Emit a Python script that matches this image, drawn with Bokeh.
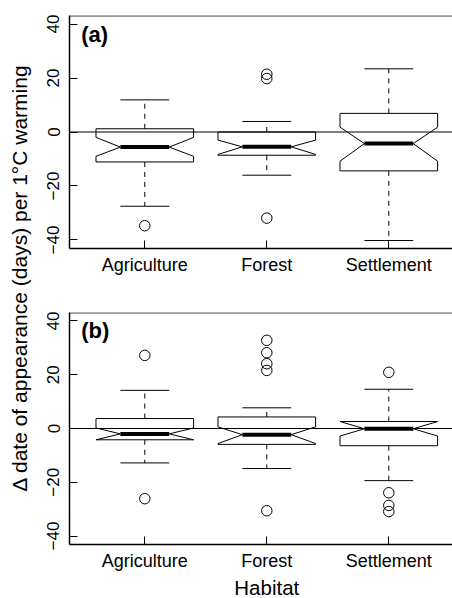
import math
from bokeh.plotting import figure
from bokeh.layouts import row, column
from bokeh.models import FixedTicker, Span, Label, Range1d
from bokeh.embed import file_html
from bokeh.resources import INLINE

# ---------------- data ----------------
habitats = ["Agriculture", "Forest", "Settlement"]
positions = [1, 2, 3]
y_ticks = [-40, -20, 0, 20, 40]

# panel (a)
a_lower_whisker = [-27.5, -16.0, -40.2]
a_q1 = [-11.1, -8.6, -14.4]
a_notch_lo = [-9.0, -8.3, -10.8]
a_median = [-5.6, -5.5, -4.3]
a_notch_hi = [-2.0, -3.0, 1.8]
a_q3 = [1.2, 0.0, 6.9]
a_upper_whisker = [11.9, 3.9, 23.4]
a_outlier_group = ["Agriculture", "Forest", "Forest", "Forest"]
a_outlier_value = [-34.7, 21.4, 19.8, -31.9]

# panel (b)
b_lower_whisker = [-12.8, -14.9, -19.4]
b_q1 = [-4.2, -5.9, -6.4]
b_notch_lo = [-4.2, -5.6, -2.8]
b_median = [-2.0, -2.3, -0.1]
b_notch_hi = [0.2, 0.6, 2.6]
b_q3 = [3.7, 4.3, 2.6]
b_upper_whisker = [14.2, 7.7, 14.6]
b_outlier_group = ["Agriculture", "Agriculture", "Forest", "Forest", "Forest",
                   "Forest", "Forest", "Settlement", "Settlement", "Settlement",
                   "Settlement"]
b_outlier_value = [27.2, -26.1, 32.8, 28.2, 24.1, 21.6, -30.6, 20.9, -23.9,
                   -28.6, -30.9]

y_title = "\u0394 date of appearance (days) per 1\u00b0C warming"
x_title = "Habitat"

# ---------------- style ----------------
FONT = "Liberation Sans"
HALF = 0.4          # half box width
PANEL_W = 414
LEFT_W = 38
TOTAL_H = 598
X_RANGE = (0.383, 3.522)


def make_panel(tag, lw, q1, nlo, med, nhi, q3, uw, og, ov, height, top, bottom, tag_y):
    p = figure(width=PANEL_W, height=height, title=None,
               x_range=Range1d(*X_RANGE), y_range=Range1d(-43.15, 43.15),
               output_backend="svg", toolbar_location=None,
               min_border_left=31, min_border_right=0, min_border_top=top,
               min_border_bottom=bottom)
    p.outline_line_color = None
    p.grid.visible = False
    p.background_fill_color = "white"
    p.border_fill_color = "white"

    # notched boxes
    xs, ys = [], []
    for i, x in enumerate(positions):
        xs.append([x - HALF, x + HALF, x + HALF, x + HALF / 2, x + HALF, x + HALF,
                   x - HALF, x - HALF, x - HALF / 2, x - HALF])
        ys.append([q3[i], q3[i], nhi[i], med[i], nlo[i], q1[i],
                   q1[i], nlo[i], med[i], nhi[i]])
    p.patches(xs, ys, fill_color="white", line_color="black", line_width=1)

    # whiskers (dashed) and staples
    p.segment(x0=positions, y0=q3, x1=positions, y1=uw, line_color="black",
              line_width=1, line_dash="5 5")
    p.segment(x0=positions, y0=q1, x1=positions, y1=lw, line_color="black",
              line_width=1, line_dash="5 5")
    p.segment(x0=[x - HALF / 2 for x in positions], y0=uw,
              x1=[x + HALF / 2 for x in positions], y1=uw,
              line_color="black", line_width=1)
    p.segment(x0=[x - HALF / 2 for x in positions], y0=lw,
              x1=[x + HALF / 2 for x in positions], y1=lw,
              line_color="black", line_width=1)

    # medians
    p.segment(x0=[x - HALF / 2 for x in positions], y0=med,
              x1=[x + HALF / 2 for x in positions], y1=med,
              line_color="black", line_width=4)

    # outliers
    ox = [positions[habitats.index(g)] for g in og]
    p.scatter(ox, ov, marker="circle", size=10.5, fill_color=None,
              line_color="black", line_width=1)

    # reference line at 0 and top frame line
    p.add_layout(Span(location=0, dimension="width", line_color="black",
                      line_width=1))
    p.add_layout(Span(location=43.0, dimension="width", line_color="black",
                      line_width=1))

    # axes
    p.xaxis.ticker = FixedTicker(ticks=positions)
    p.xaxis.major_label_overrides = {pos: h for pos, h in zip(positions, habitats)}
    p.yaxis.ticker = FixedTicker(ticks=y_ticks)
    p.yaxis.major_label_overrides = {t: (str(t).replace("-", "\u2212")) for t in y_ticks}
    p.yaxis.major_label_orientation = "vertical"
    for ax in (p.xaxis[0], p.yaxis[0]):
        ax.axis_line_color = "black"
        ax.axis_line_width = 1.5
        ax.major_tick_in = 8
        ax.major_tick_out = 0
        ax.major_tick_line_color = "black"
        ax.major_tick_line_width = 1
        ax.minor_tick_line_color = None
        ax.major_label_text_font = FONT
        ax.major_label_text_color = "black"
    p.xaxis.major_label_text_font_size = "18px"
    p.xaxis.major_label_standoff = 6
    p.yaxis.major_label_text_font_size = "17px"
    p.yaxis.major_label_standoff = 10

    p.add_layout(Label(x=0.479, y=tag_y, text=tag, text_font=FONT,
                       text_font_size="22px", text_font_style="bold",
                       text_color="black", text_align="left",
                       text_baseline="middle"))
    return p


# panel (a): frame 15..248 ; panel (b): frame 312..545
PA_H, PB_H = 305, 268
pa = make_panel("(a)", a_lower_whisker, a_q1, a_notch_lo, a_median, a_notch_hi,
                a_q3, a_upper_whisker, a_outlier_group, a_outlier_value,
                height=PA_H, top=15, bottom=57, tag_y=36.1)
pb = make_panel("(b)", b_lower_whisker, b_q1, b_notch_lo, b_median, b_notch_hi,
                b_q3, b_upper_whisker, b_outlier_group, b_outlier_value,
                height=PB_H, top=7, bottom=28, tag_y=36.3)

# x-axis title strip (below panel b)
HAB_H = TOTAL_H - PA_H - PB_H
hab = figure(width=PANEL_W, height=HAB_H, title=None,
             x_range=Range1d(*X_RANGE), y_range=Range1d(0, HAB_H),
             output_backend="svg", toolbar_location=None,
             x_axis_type=None, y_axis_type=None,
             min_border_left=31, min_border_right=0, min_border_top=0,
             min_border_bottom=0)
hab.outline_line_color = None
hab.grid.visible = False
hab.add_layout(Label(x=positions[1], y=11, text=x_title, text_font=FONT,
                     text_font_size="20.5px", text_color="black",
                     text_align="center", text_baseline="middle"))

# shared y-axis title
ylab = figure(width=LEFT_W, height=TOTAL_H, title=None,
              x_range=Range1d(0, LEFT_W), y_range=Range1d(0, TOTAL_H),
              output_backend="svg", toolbar_location=None,
              x_axis_type=None, y_axis_type=None,
              min_border_left=0, min_border_right=0, min_border_top=0,
              min_border_bottom=0)
ylab.outline_line_color = None
ylab.grid.visible = False
ylab.add_layout(Label(x=19, y=TOTAL_H - 277.5, text=y_title, angle=math.pi / 2,
                      text_font=FONT, text_font_size="21px",
                      text_color="black", text_align="center",
                      text_baseline="middle"))

layout = row(ylab, column(pa, pb, hab))
open("out.html", "w").write(file_html(layout, INLINE))
